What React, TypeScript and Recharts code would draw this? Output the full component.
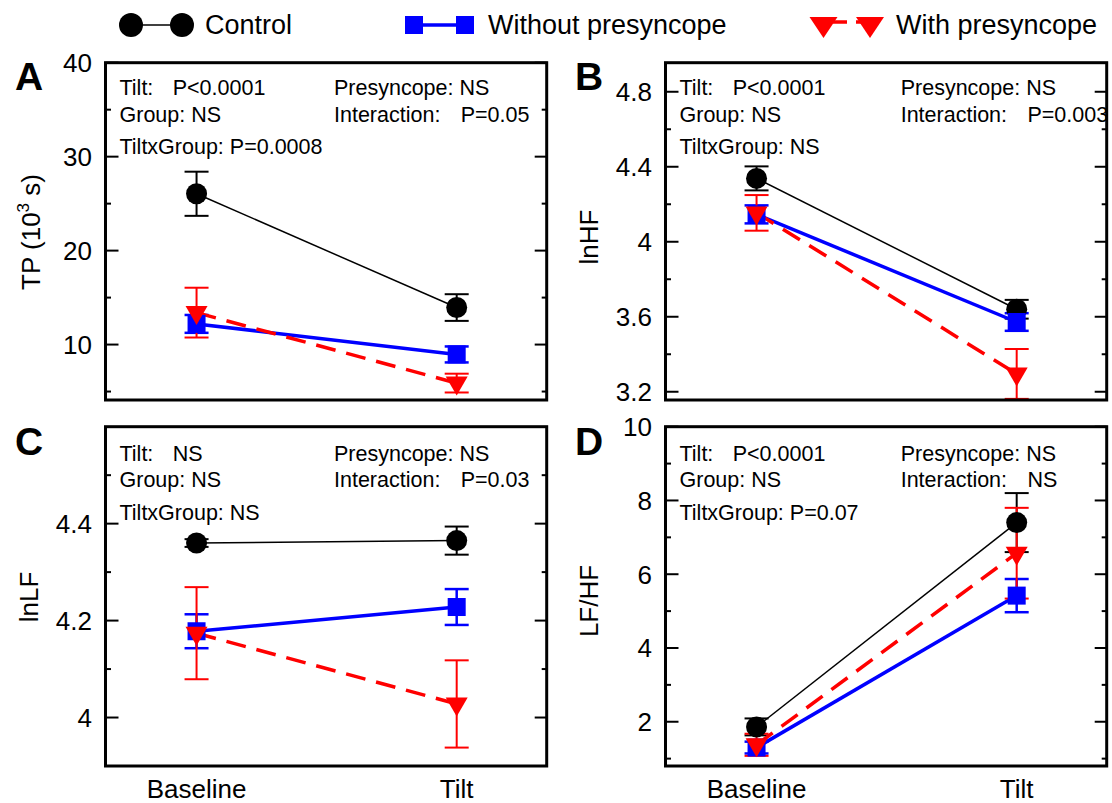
import React from "react";
import { LineChart, Line, XAxis, YAxis, ErrorBar } from "recharts";

const FONT = "'Liberation Sans', Arial, Helvetica, sans-serif";
const BLUE = "#0000ff";
const RED = "#ff0000";

const phases = ["Baseline", "Tilt"];
const phaseIndex = [0, 1];
const xDomain = [-0.35, 1.346];

// A: total power (10^3 s)
const tpControl = [26.05, 13.94];
const tpControlErr = [2.35, 1.42];
const tpWithout = [12.2, 8.95];
const tpWithoutErr = [0.95, 0.85];
const tpWith = [13.4, 5.9];
const tpWithErr = [2.65, 1.0];
const tpTicks = [5, 10, 15, 20, 25, 30, 35, 40];
const tpMajor = [10, 20, 30, 40];

// B: lnHF
const hfControl = [4.338, 3.64];
const hfControlErr = [0.064, 0.05];
const hfWithout = [4.146, 3.572];
const hfWithoutErr = [0.048, 0.047];
const hfWith = [4.154, 3.295];
const hfWithErr = [0.095, 0.133];
const hfTicks = [3.2, 3.4, 3.6, 3.8, 4, 4.2, 4.4, 4.6, 4.8];
const hfMajor = [3.2, 3.6, 4, 4.4, 4.8];

// C: lnLF
const lfControl = [4.36, 4.365];
const lfControlErr = [0.008, 0.029];
const lfWithout = [4.178, 4.228];
const lfWithoutErr = [0.035, 0.037];
const lfWith = [4.174, 4.028];
const lfWithErr = [0.095, 0.09];
const lfTicks = [4, 4.1, 4.2, 4.3, 4.4, 4.5];
const lfMajor = [4, 4.2, 4.4];

// D: LF/HF
const ratioControl = [1.86, 7.4];
const ratioControlErr = [0.23, 0.8];
const ratioWithout = [1.3, 5.42];
const ratioWithoutErr = [0.16, 0.45];
const ratioWith = [1.375, 6.57];
const ratioWithErr = [0.3, 1.23];
const ratioTicks = [1, 2, 3, 4, 5, 6, 7, 8, 9, 10];
const ratioMajor = [2, 4, 6, 8, 10];

const makeRows = (c, ce, wo, woe, w, we) =>
  phaseIndex.map((i) => ({
    x: i,
    control: c[i],
    controlErr: ce[i],
    without: wo[i],
    withoutErr: woe[i],
    withP: w[i],
    withErr: we[i],
  }));

const isMajor = (major: number[], v: number) => major.some((m) => Math.abs(m - Number(v)) < 1e-9);

// ticks point inward from the frame, labels sit outside on the left
const leftTick = (major: number[]) => (props: any) => {
  const x = Number(props.x);
  const y = Number(props.y);
  const big = isMajor(major, props.payload.value);
  return (
    <g>
      <line x1={x} x2={x + (big ? 13 : 5.5)} y1={y} y2={y} stroke="#000" strokeWidth={2} />
      {big && (
        <text x={x - 13.5} y={y} dy="0.36em" textAnchor="end" fontSize={26} fontFamily={FONT} fill="#000">
          {props.payload.value}
        </text>
      )}
    </g>
  );
};

const rightTick = (major: number[]) => (props: any) => {
  const x = Number(props.x);
  const y = Number(props.y);
  const big = isMajor(major, props.payload.value);
  return <line x1={x} x2={x - (big ? 12 : 5)} y1={y} y2={y} stroke="#000" strokeWidth={2} />;
};

const bottomTick = (props: any) => (
  <text x={Number(props.x)} y={Number(props.y) + 32} textAnchor="middle" fontSize={26} fontFamily={FONT} fill="#000">
    {phases[Math.round(Number(props.payload.value))]}
  </text>
);

const circleDot = (p: any) =>
  p.cx == null ? <g key={p.index} /> : <circle key={p.index} cx={p.cx} cy={p.cy} r={10.5} fill="#000" />;
const squareDot = (p: any) =>
  p.cx == null ? <g key={p.index} /> : <rect key={p.index} x={p.cx - 9} y={p.cy - 9} width={18} height={18} fill={BLUE} />;
const triangleDot = (p: any) =>
  p.cx == null ? (
    <g key={p.index} />
  ) : (
    <path
      key={p.index}
      d={`M${p.cx - 11},${p.cy - 6.5} L${p.cx + 11},${p.cy - 6.5} L${p.cx},${p.cy + 12.5} Z`}
      fill={RED}
    />
  );

const CHART_W = 556;

const panels = [
  { id: "A", left: 0, top: 0, height: 410, yLeft: 105.5, margin: { top: 62.7, right: 8.3, bottom: 9, left: 0 } },
  { id: "B", left: 556, top: 0, height: 410, yLeft: 109.5, margin: { top: 62.7, right: 4.3, bottom: 9, left: 0 } },
  { id: "C", left: 0, top: 400, height: 403, yLeft: 105.5, margin: { top: 26.7, right: 8.3, bottom: 36, left: 0 } },
  { id: "D", left: 556, top: 400, height: 403, yLeft: 109.5, margin: { top: 26.7, right: 4.3, bottom: 36, left: 0 } },
];

// plot box of a panel in page coordinates (1px axis bands on right and bottom)
const plotBox = (p) => ({
  x: p.left + p.yLeft,
  y: p.top + p.margin.top,
  w: CHART_W - p.yLeft - p.margin.right - 1,
  h: p.height - p.margin.top - p.margin.bottom - 1,
});

function Panel({ cfg, data, domain, ticks, major, showX }) {
  return (
    <div style={{ position: "absolute", left: cfg.left, top: cfg.top }}>
      <LineChart width={CHART_W} height={cfg.height} data={data} margin={cfg.margin}>
        <XAxis
          xAxisId="b"
          dataKey="x"
          type="number"
          domain={xDomain}
          ticks={phaseIndex}
          allowDataOverflow
          height={1}
          axisLine={false}
          tickLine={false}
          tickSize={0}
          tickMargin={0}
          interval={0}
          tick={showX ? bottomTick : false}
        />
        <YAxis
          yAxisId="l"
          type="number"
          domain={domain}
          ticks={ticks}
          allowDataOverflow
          width={cfg.yLeft}
          axisLine={false}
          tickLine={false}
          tickSize={0}
          tickMargin={0}
          interval={0}
          tick={leftTick(major)}
        />
        <YAxis
          yAxisId="r"
          orientation="right"
          type="number"
          domain={domain}
          ticks={ticks}
          allowDataOverflow
          width={1}
          axisLine={false}
          tickLine={false}
          tickSize={0}
          tickMargin={0}
          interval={0}
          tick={rightTick(major)}
        />
        <Line
          xAxisId="b"
          yAxisId="l"
          type="linear"
          dataKey="control"
          stroke="#000"
          strokeWidth={1.5}
          dot={circleDot}
          activeDot={false}
          isAnimationActive={false}
        >
          <ErrorBar dataKey="controlErr" width={12} stroke="#000" strokeWidth={2} direction="y" />
        </Line>
        <Line
          xAxisId="b"
          yAxisId="l"
          type="linear"
          dataKey="without"
          stroke={BLUE}
          strokeWidth={3.5}
          dot={squareDot}
          activeDot={false}
          isAnimationActive={false}
        >
          <ErrorBar dataKey="withoutErr" width={12} stroke={BLUE} strokeWidth={2.5} direction="y" />
        </Line>
        <Line
          xAxisId="b"
          yAxisId="l"
          type="linear"
          dataKey="withP"
          stroke={RED}
          strokeWidth={3.5}
          strokeDasharray="20 11"
          dot={triangleDot}
          activeDot={false}
          isAnimationActive={false}
        >
          <ErrorBar dataKey="withErr" width={12} stroke={RED} strokeWidth={2} direction="y" />
        </Line>
      </LineChart>
    </div>
  );
}

const txt = { fontFamily: FONT, fill: "#000" };

function Notes({ dx, dy, c2, rows }) {
  // rows: [tilt value, group, tiltxgroup, presyncope, interaction value]
  const y = [95 + dy, 121.7 + dy, 154 + dy];
  return (
    <g fontSize={21.5} {...txt}>
      <text x={119.5 + dx} y={y[0]}>Tilt:</text>
      <text x={172.7 + dx} y={y[0]}>{rows[0]}</text>
      <text x={119.5 + dx} y={y[1]}>Group: {rows[1]}</text>
      <text x={119.5 + dx} y={y[2]}>TiltxGroup: {rows[2]}</text>
      <text x={334 + dx + c2} y={y[0]}>Presyncope: {rows[3]}</text>
      <text x={334 + dx + c2} y={y[1]}>Interaction:</text>
      <text x={460.7 + dx + c2} y={y[1]}>{rows[4]}</text>
    </g>
  );
}

export default function App() {
  return (
    <div style={{ position: "absolute", left: 0, top: 0, width: 1112, height: 803, background: "#fff", overflow: "hidden" }}>
      <Panel
        cfg={panels[0]}
        data={makeRows(tpControl, tpControlErr, tpWithout, tpWithoutErr, tpWith, tpWithErr)}
        domain={[4.1, 40]}
        ticks={tpTicks}
        major={tpMajor}
        showX={false}
      />
      <Panel
        cfg={panels[1]}
        data={makeRows(hfControl, hfControlErr, hfWithout, hfWithoutErr, hfWith, hfWithErr)}
        domain={[3.156, 4.955]}
        ticks={hfTicks}
        major={hfMajor}
        showX={false}
      />
      <Panel
        cfg={panels[2]}
        data={makeRows(lfControl, lfControlErr, lfWithout, lfWithoutErr, lfWith, lfWithErr)}
        domain={[3.9, 4.6]}
        ticks={lfTicks}
        major={lfMajor}
        showX={true}
      />
      <Panel
        cfg={panels[3]}
        data={makeRows(ratioControl, ratioControlErr, ratioWithout, ratioWithoutErr, ratioWith, ratioWithErr)}
        domain={[0.8, 10]}
        ticks={ratioTicks}
        major={ratioMajor}
        showX={true}
      />
      <svg width={1112} height={803} style={{ position: "absolute", left: 0, top: 0, pointerEvents: "none" }}>
        {/* panel frames */}
        {panels.map((p) => {
          const b = plotBox(p);
          return <rect key={p.id} x={b.x} y={b.y} width={b.w} height={b.h} fill="none" stroke="#000" strokeWidth={3} />;
        })}

        {/* legend */}
        <line x1={131} x2={182} y1={25} y2={25} stroke="#000" strokeWidth={1.5} />
        <circle cx={131} cy={25} r={12} fill="#000" />
        <circle cx={182} cy={25} r={12} fill="#000" />
        <text x={205} y={34} fontSize={27} {...txt}>Control</text>
        <line x1={414} x2={465} y1={25} y2={25} stroke={BLUE} strokeWidth={3.5} />
        <rect x={405} y={16} width={18} height={18} fill={BLUE} />
        <rect x={456} y={16} width={18} height={18} fill={BLUE} />
        <text x={488} y={34} fontSize={27} {...txt}>Without presyncope</text>
        <line x1={823} x2={870} y1={22} y2={22} stroke={RED} strokeWidth={3.5} strokeDasharray="14 9" strokeDashoffset={-10} />
        <path d="M809.5,17 L837.5,17 L823.5,38 Z" fill={RED} />
        <path d="M856,17 L884,17 L870,38 Z" fill={RED} />
        <text x={896} y={34} fontSize={27} {...txt}>With presyncope</text>

        {/* panel letters */}
        <g fontSize={39} fontWeight="bold" {...txt}>
          <text x={15} y={90}>A</text>
          <text x={575} y={90}>B</text>
          <text x={15} y={455}>C</text>
          <text x={575} y={455}>D</text>
        </g>

        {/* statistics */}
        <Notes dx={0} dy={0} c2={0} rows={["P<0.0001", "NS", "P=0.0008", "NS", "P=0.05"]} />
        <Notes dx={560} dy={0} c2={6.7} rows={["P<0.0001", "NS", "NS", "NS", "P=0.003"]} />
        <Notes dx={0} dy={365.5} c2={0} rows={["NS", "NS", "NS", "NS", "P=0.03"]} />
        <Notes dx={560} dy={365.5} c2={6.7} rows={["P<0.0001", "NS", "P=0.07", "NS", "NS"]} />

        {/* axis titles */}
        <g fontSize={26} {...txt} textAnchor="middle">
          <text transform="translate(40,232) rotate(-90)">
            TP (10<tspan dy={-11} fontSize={17}>3</tspan>
            <tspan dy={11}> s)</tspan>
          </text>
          <text transform="translate(598,237) rotate(-90)">lnHF</text>
          <text transform="translate(38,597) rotate(-90)">lnLF</text>
          <text transform="translate(598,601) rotate(-90)">LF/HF</text>
        </g>
      </svg>
    </div>
  );
}
